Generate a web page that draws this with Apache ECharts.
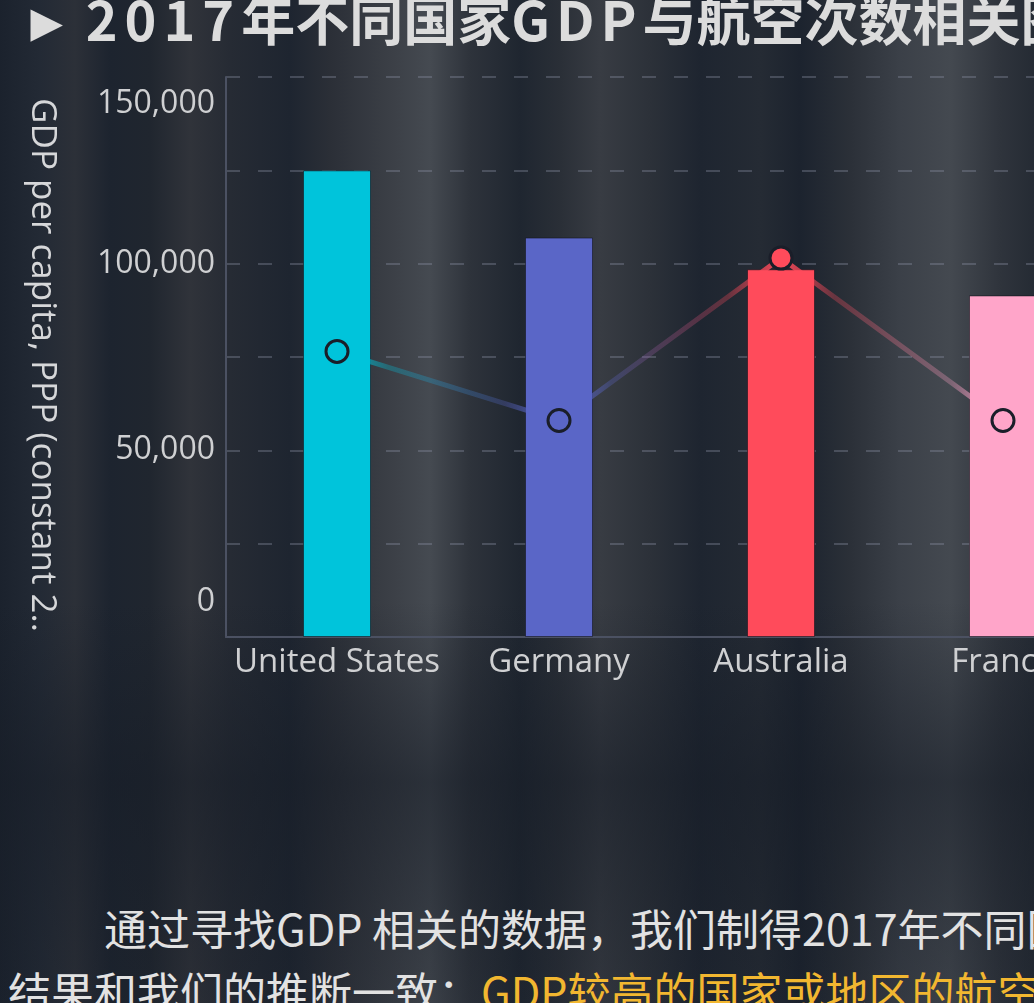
<!DOCTYPE html>
<html>
<head>
<meta charset="utf-8">
<script src="https://cdn.jsdelivr.net/npm/echarts@6/dist/echarts.min.js"></script>
<style>
html,body{margin:0;padding:0;width:1034px;height:1003px;overflow:hidden}
body{
  position:relative;
  background:
    linear-gradient(180deg, rgba(20,26,36,0) 0%, rgba(20,26,36,0) 60%, rgba(22,28,38,0.55) 78%, rgba(22,28,38,0.2) 100%),
    linear-gradient(90deg,#1b222d 0px,#232a35 40px,#2c3038 75px,#1d242f 110px,#20262f 150px,#30333a 190px,#262b34 230px,
      #1e2530 290px,#2b2f37 330px,#3b3f46 390px,#454a51 430px,#2e333b 470px,#1f2630 520px,#2a2f37 560px,#383c43 600px,
      #2c3139 650px,#1e2530 700px,#252b34 760px,#1c232e 800px,#2b3038 850px,#3b4048 900px,#444950 950px,#2f343c 1000px,#252b34 1034px);
  font-family:"Noto Sans CJK SC","Noto Sans",sans-serif;
}
#title{position:absolute;left:20px;top:-22px;font-size:54px;font-weight:bold;color:#dcdcdc;white-space:nowrap}
#title .num{letter-spacing:7px}
#title .lat{letter-spacing:6px}
#chart{position:absolute;left:0;top:0;width:1500px;height:720px}
.line{position:absolute;white-space:nowrap;font-size:43px;color:#e2e2e2}
.line .hl{color:#f2b730}
</style>
</head>
<body>
<div id="title">► <span class="num">2017</span>年不同国家<span class="lat">GDP</span>与航空次数相关图</div>
<div id="chart"></div>
<div class="line" style="left:104px;top:896px">通过寻找GDP 相关的数据，我们制得2017年不同国家GDP与航空次数相关图。</div>
<div class="line" style="left:8px;top:959px">结果和我们的推断一致：<span class="hl">GDP较高的国家或地区的航空次数也较高。</span></div>
<script type="text/javascript">
var countries = ['United States', 'Germany', 'Australia', 'France', 'Japan'];
var gdpValues = [125000, 107000, 98500, 91500, 88000];
var flightValues = [76500, 58000, 101500, 58000, 75000];
var barColors = ['#00c4db', '#5a66c7', '#ff4b5b', '#ffa5c9', '#7ccf8a'];
var yTicks = [0, 50000, 100000, 150000];

function rgba(hex, a){
  var n = parseInt(hex.slice(1), 16);
  return 'rgba(' + (n >> 16) + ',' + ((n >> 8) & 255) + ',' + (n & 255) + ',' + a + ')';
}

var stops = [];
for (var i = 0; i < barColors.length; i++) {
  var p = i / (barColors.length - 1);
  if (i > 0) stops.push({offset: p - 0.06, color: rgba(barColors[i], 0.3)});
  stops.push({offset: p, color: rgba(barColors[i], 0.95)});
  if (i < barColors.length - 1) stops.push({offset: p + 0.06, color: rgba(barColors[i], 0.3)});
}

var labelColor = '#cfd0d2';

var option = {
  animation: false,
  grid: {left: 226, top: 77, width: 1110, height: 560},
  xAxis: {
    type: 'category',
    data: countries,
    axisLine: {show: true, lineStyle: {color: '#4b5162', width: 2}},
    axisTick: {show: false},
    axisLabel: {interval: 0, margin: 9, fontFamily: 'Open Sans', fontSize: 33, color: labelColor}
  },
  yAxis: {
    type: 'value',
    min: 0,
    max: 150000,
    interval: 25000,
    name: 'GDP per capita, PPP (constant 2011 international $)',
    nameLocation: 'middle',
    nameRotate: -90,
    nameGap: 167,
    nameTruncate: {maxWidth: 545, ellipsis: '..'},
    nameTextStyle: {fontFamily: 'Open Sans', fontSize: 35, color: '#d6d7d9', padding: [0, 0, 0, 16]},
    axisLine: {show: true, lineStyle: {color: '#4b5162', width: 2}},
    axisTick: {show: false},
    splitLine: {show: true, lineStyle: {color: 'rgba(140,145,165,0.35)', type: [14, 18], width: 2}},
    axisLabel: {
      margin: 11,
      fontFamily: 'Open Sans', fontSize: 32, color: labelColor,
      formatter: function (v) {
        if (yTicks.indexOf(v) < 0) return '';
        var s = v.toLocaleString('en-US');
        if (v === yTicks[0]) return '{min|' + s + '}';
        if (v === yTicks[yTicks.length - 1]) return '{max|' + s + '}';
        return s;
      },
      rich: {
        min: {fontFamily: 'Open Sans', fontSize: 32, color: labelColor, padding: [0, 0, 70, 0]},
        max: {fontFamily: 'Open Sans', fontSize: 32, color: labelColor, padding: [54, 0, 0, 0]}
      }
    }
  },
  series: [
    {
      type: 'bar',
      barWidth: 68,
      data: gdpValues.map(function (v, i) {
        return {value: v, itemStyle: {color: barColors[i]}};
      }),
      itemStyle: {borderColor: 'rgba(20,22,30,0.6)', borderWidth: 1}
    },
    {
      type: 'line',
      data: flightValues.map(function (v, i) {
        return {value: v, itemStyle: {color: barColors[i]}};
      }),
      symbol: 'circle',
      symbolSize: 22,
      itemStyle: {borderColor: '#1a1e29', borderWidth: 3},
      lineStyle: {
        width: 5,
        color: {type: 'linear', x: 0, y: 0, x2: 1, y2: 0, colorStops: stops}
      },
      z: 5
    }
  ]
};

var myChart = echarts.init(document.getElementById('chart'));
myChart.setOption(option);
</script>
</body>
</html>
